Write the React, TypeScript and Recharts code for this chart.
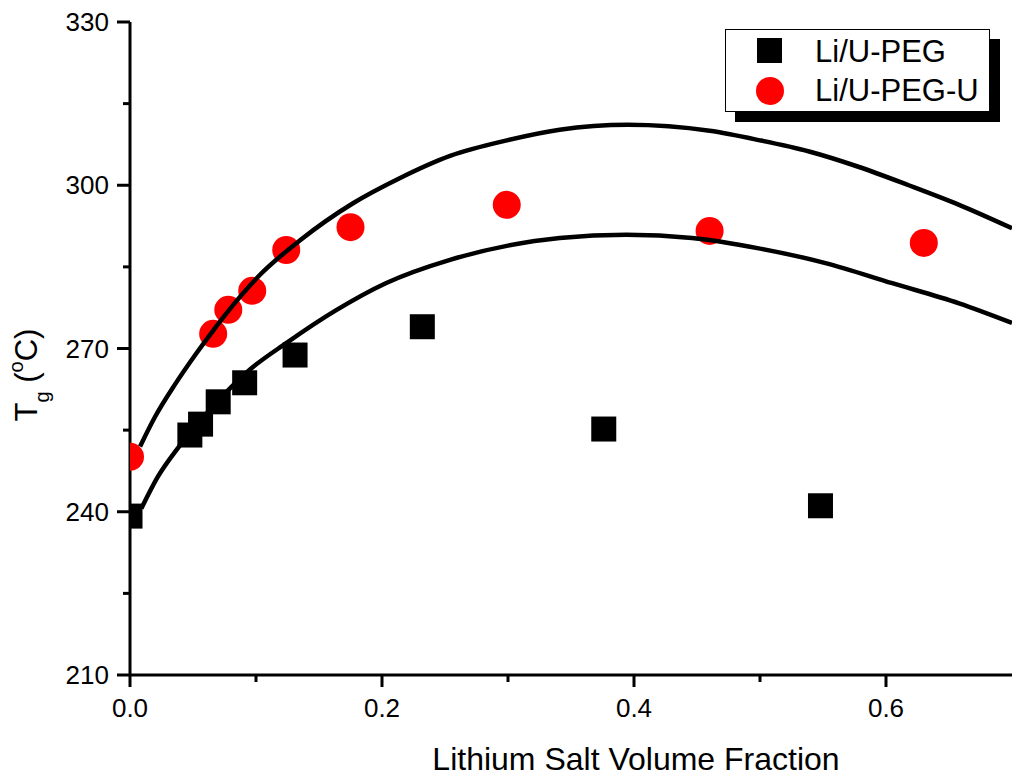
import {
  ComposedChart,
  Scatter,
  Line,
  XAxis,
  YAxis,
  Legend,
} from "recharts";

// Li/U-PEG (black squares)
const pegFraction = [0, 0.0475, 0.056, 0.07, 0.091, 0.131, 0.232, 0.376, 0.548];
const pegTg = [239.2, 254.1, 256.1, 260.2, 263.7, 268.8, 274.0, 255.2, 241.1];

// Li/U-PEG-U (red circles)
const peguFraction = [0, 0.066, 0.078, 0.097, 0.124, 0.175, 0.299, 0.46, 0.63];
const peguTg = [250.1, 272.7, 277.1, 280.6, 288.1, 292.3, 296.4, 291.6, 289.4];

// fitted curves
const upperFitX = [0.008, 0.02, 0.036, 0.052, 0.066, 0.077, 0.103, 0.135, 0.177, 0.214, 0.254, 0.3, 0.341, 0.395, 0.46, 0.499, 0.539, 0.578, 0.618, 0.658, 0.7];
const upperFitY = [252.0, 257.5, 263.5, 268.9, 273.3, 276.6, 283.5, 289.9, 296.7, 301.3, 305.4, 308.3, 310.2, 311.1, 310.0, 308.3, 306.2, 303.4, 300.0, 296.4, 292.1];
const lowerFitX = [0.009, 0.022, 0.038, 0.061, 0.095, 0.124, 0.164, 0.203, 0.254, 0.3, 0.341, 0.394, 0.446, 0.499, 0.552, 0.605, 0.658, 0.7];
const lowerFitY = [240.6, 246.4, 251.7, 258.1, 266.1, 271.0, 277.1, 282.0, 286.3, 288.9, 290.3, 290.9, 290.3, 288.4, 285.7, 282.0, 278.3, 274.7];

const xTicks = [0, 0.1, 0.2, 0.3, 0.4, 0.5, 0.6];
const yTicks = [210, 225, 240, 255, 270, 285, 300, 315, 330];

const zip = (xs: number[], ys: number[]) => xs.map((x, i) => ({ x, y: ys[i] }));

const pegData = zip(pegFraction, pegTg);
const peguData = zip(peguFraction, peguTg);
const upperFit = zip(upperFitX, upperFitY);
const lowerFit = zip(lowerFitX, lowerFitY);

const FONT = "'Liberation Sans', Arial, sans-serif";

const XTick = (props: any) => {
  const { x, y, payload } = props;
  const v = payload.value;
  const major = Math.round(v * 10) % 2 === 0;
  return (
    <g>
      <line x1={x} x2={x} y1={y} y2={y + (major ? 12 : 7)} stroke="#000" strokeWidth={3} />
      {major && (
        <text x={x} y={y + 42} textAnchor="middle" fontSize={26} fontFamily={FONT} fill="#000">
          {v.toFixed(1)}
        </text>
      )}
    </g>
  );
};

const YTick = (props: any) => {
  const { x, y, payload } = props;
  const v = payload.value;
  const major = (v - 210) % 30 === 0;
  return (
    <g>
      <line x1={x - (major ? 13 : 7)} x2={x} y1={y} y2={y} stroke="#000" strokeWidth={3} />
      {major && (
        <text x={x - 21} y={y + 9} textAnchor="end" fontSize={26} fontFamily={FONT} fill="#000">
          {v}
        </text>
      )}
    </g>
  );
};

const YLabel = () => (
  <text
    x={37}
    y={375}
    transform="rotate(-90, 37, 375)"
    textAnchor="middle"
    fontSize={31}
    fontFamily={FONT}
    fill="#000"
  >
    T
    <tspan fontSize={20} dy={12}>g</tspan>
    <tspan dy={-12}> (</tspan>
    <tspan fontSize={20} dy={-14}>o</tspan>
    <tspan dy={14}>C)</tspan>
  </text>
);

const XLabel = () => (
  <text x={636} y={770} textAnchor="middle" fontSize={32} fontFamily={FONT} fill="#000">
    Lithium Salt Volume Fraction
  </text>
);

const Square = (props: any) => {
  const { cx, cy } = props;
  return <rect x={cx - 12.5} y={cy - 12.5} width={25} height={25} fill="#000" />;
};

const Dot = (props: any) => {
  const { cx, cy } = props;
  return <circle cx={cx} cy={cy} r={14} fill="#ff0000" />;
};

const LegendBox = () => (
  <div
    style={{
      width: 265,
      height: 83,
      boxSizing: "border-box",
      border: "1.5px solid #000",
      background: "#fff",
      boxShadow: "10px 10px 0 #000",
    }}
  >
    <svg width={262} height={80} style={{ display: "block" }}>
      <rect x={31} y={8} width={25} height={25} fill="#000" />
      <text x={89} y={32} fontSize={31} fontFamily={FONT} fill="#000">
        Li/U-PEG
      </text>
      <circle cx={44} cy={61} r={14} fill="#ff0000" />
      <text x={89} y={71} fontSize={31} fontFamily={FONT} fill="#000">
        Li/U-PEG-U
      </text>
    </svg>
  </div>
);

export default function App() {
  return (
    <div style={{ position: "absolute", left: 0, top: 0, width: 1024, height: 777, background: "#fff" }}>
      <ComposedChart
        width={1024}
        height={777}
        margin={{ top: 22, right: 12, bottom: 42, left: 50 }}
      >
        <XAxis
          xAxisId="bottom"
          type="number"
          dataKey="x"
          domain={[0, 0.7]}
          ticks={xTicks}
          interval={0}
          allowDataOverflow
          height={60}
          tickLine={false}
          tickSize={0}
          tickMargin={0}
          tick={<XTick />}
          axisLine={{ stroke: "#000", strokeWidth: 3 }}
          label={<XLabel />}
        />
        <XAxis
          xAxisId="top"
          orientation="top"
          type="number"
          dataKey="x"
          domain={[0, 0.7]}
          allowDataOverflow
          height={0}
          tick={false}
          tickLine={false}
          axisLine={{ stroke: "#000", strokeWidth: 3 }}
        />
        <YAxis
          yAxisId="left"
          type="number"
          dataKey="y"
          domain={[210, 330]}
          ticks={yTicks}
          interval={0}
          allowDataOverflow
          width={80}
          tickLine={false}
          tickSize={0}
          tickMargin={0}
          tick={<YTick />}
          axisLine={{ stroke: "#000", strokeWidth: 3 }}
          label={<YLabel />}
        />
        <YAxis
          yAxisId="right"
          orientation="right"
          type="number"
          domain={[210, 330]}
          allowDataOverflow
          width={0}
          tick={false}
          tickLine={false}
          axisLine={{ stroke: "#000", strokeWidth: 3 }}
        />
        <Scatter
          name="Li/U-PEG"
          data={pegData}
          dataKey="y"
          xAxisId="bottom"
          yAxisId="left"
          shape={<Square />}
          isAnimationActive={false}
        />
        <Scatter
          name="Li/U-PEG-U"
          data={peguData}
          dataKey="y"
          xAxisId="bottom"
          yAxisId="left"
          shape={<Dot />}
          isAnimationActive={false}
        />
        <Line
          data={upperFit}
          dataKey="y"
          xAxisId="bottom"
          yAxisId="left"
          type="monotone"
          stroke="#000"
          strokeWidth={4.5}
          dot={false}
          activeDot={false}
          legendType="none"
          zIndex={700}
          isAnimationActive={false}
        />
        <Line
          data={lowerFit}
          dataKey="y"
          xAxisId="bottom"
          yAxisId="left"
          type="monotone"
          stroke="#000"
          strokeWidth={4.5}
          dot={false}
          activeDot={false}
          legendType="none"
          zIndex={700}
          isAnimationActive={false}
        />
        <Legend
          layout="vertical"
          align="center"
          verticalAlign="middle"
          wrapperStyle={{ left: 725, top: 29, width: 265, height: 83 }}
          content={() => <LegendBox />}
        />
      </ComposedChart>
    </div>
  );
}
